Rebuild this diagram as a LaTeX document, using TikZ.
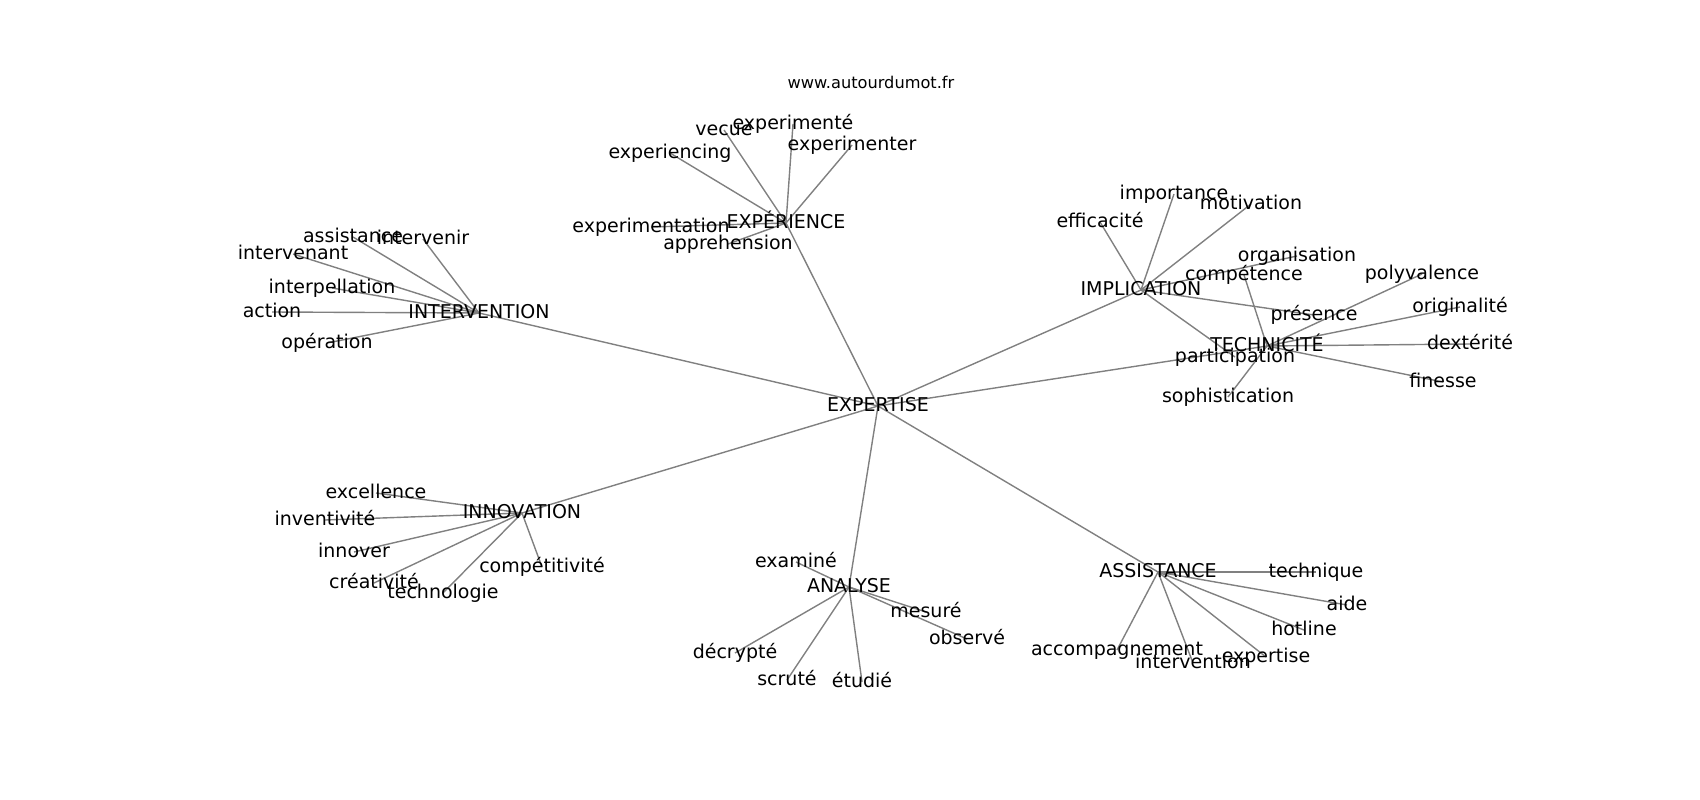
\documentclass[tikz,border=0pt]{standalone}
\usepackage{fontspec}
\setmainfont{DejaVu Sans}
\usetikzlibrary{backgrounds}

\begin{document}
\begin{tikzpicture}[x=1pt,y=-1pt,
  word/.style={inner sep=0pt,text height=1.12em,text depth=0pt,font=\fontsize{19}{19}\selectfont},
  link/.style={draw=gray,line width=1.4pt}]
\useasboundingbox (0,0) rectangle (1700,800);

\node (T)[word,font=\fontsize{16.2}{16.2}\selectfont] at (871,83) {www.autourdumot.fr};

\node (R0)[word] at (878,406) {EXPERTISE};

\node (H1)[word] at (786,223) {EXPÉRIENCE};
\node (W11)[word] at (724,130) {vecue};
\node (W12)[word] at (793,124) {experimenté};
\node (W13)[word] at (852,145) {experimenter};
\node (W14)[word] at (670,153) {experiencing};
\node (W15)[word] at (651,227) {experimentation};
\node (W16)[word] at (728,244) {apprehension};

\node (H2)[word] at (479,313) {INTERVENTION};
\node (W21)[word] at (353,237) {assistance};
\node (W22)[word] at (423,239) {intervenir};
\node (W23)[word] at (293,254) {intervenant};
\node (W24)[word] at (332,288) {interpellation};
\node (W25)[word] at (272,312) {action};
\node (W26)[word] at (327,343) {opération};

\node (H3)[word] at (1141,290) {IMPLICATION};
\node (W31)[word] at (1174,194) {importance};
\node (W32)[word] at (1251,204) {motivation};
\node (W33)[word] at (1100,222) {efficacité};
\node (W34)[word] at (1297,256) {organisation};
\node (W35)[word] at (1314,315) {présence};
\node (W36)[word] at (1235,357) {participation};

\node (H4)[word] at (1267,346) {TECHNICITÉ};
\node (W41)[word] at (1244,275) {compétence};
\node (W42)[word] at (1422,274) {polyvalence};
\node (W43)[word] at (1460,307) {originalité};
\node (W44)[word] at (1470,344) {dextérité};
\node (W45)[word] at (1443,382) {finesse};
\node (W46)[word] at (1228,397) {sophistication};

\node (H5)[word] at (522,513) {INNOVATION};
\node (W51)[word] at (376,493) {excellence};
\node (W52)[word] at (325,520) {inventivité};
\node (W53)[word] at (354,552) {innover};
\node (W54)[word] at (374,583) {créativité};
\node (W55)[word] at (443,593) {technologie};
\node (W56)[word] at (542,567) {compétitivité};

\node (H6)[word] at (849,587) {ANALYSE};
\node (W61)[word] at (796,562) {examiné};
\node (W62)[word] at (926,612) {mesuré};
\node (W63)[word] at (967,639) {observé};
\node (W64)[word] at (735,653) {décrypté};
\node (W65)[word] at (787,680) {scruté};
\node (W66)[word] at (862,682) {étudié};

\node (H7)[word] at (1158,572) {ASSISTANCE};
\node (W71)[word] at (1316,572) {technique};
\node (W72)[word] at (1347,605) {aide};
\node (W73)[word] at (1304,630) {hotline};
\node (W74)[word] at (1266,657) {expertise};
\node (W75)[word] at (1193,663) {intervention};
\node (W76)[word] at (1117,650) {accompagnement};

\begin{scope}[on background layer]
% centre
\draw[link] (R0.center) -- (H1.center);
\draw[link] (R0.center) -- (H2.center);
\draw[link] (R0.center) -- (H3.center);
\draw[link] (R0.center) -- (H4.center);
\draw[link] (R0.center) -- (H5.center);
\draw[link] (R0.center) -- (H6.center);
\draw[link] (R0.center) -- (H7.center);

\draw[link] (H1.center) -- (W11.center);
\draw[link] (H1.center) -- (W12.center);
\draw[link] (H1.center) -- (W13.center);
\draw[link] (H1.center) -- (W14.center);
\draw[link] (H1.center) -- (W15.center);
\draw[link] (H1.center) -- (W16.center);

\draw[link] (H2.center) -- (W21.center);
\draw[link] (H2.center) -- (W22.center);
\draw[link] (H2.center) -- (W23.center);
\draw[link] (H2.center) -- (W24.center);
\draw[link] (H2.center) -- (W25.center);
\draw[link] (H2.center) -- (W26.center);

\draw[link] (H3.center) -- (W31.center);
\draw[link] (H3.center) -- (W32.center);
\draw[link] (H3.center) -- (W33.center);
\draw[link] (H3.center) -- (W34.center);
\draw[link] (H3.center) -- (W35.center);
\draw[link] (H3.center) -- (W36.center);

\draw[link] (H4.center) -- (W41.center);
\draw[link] (H4.center) -- (W42.center);
\draw[link] (H4.center) -- (W43.center);
\draw[link] (H4.center) -- (W44.center);
\draw[link] (H4.center) -- (W45.center);
\draw[link] (H4.center) -- (W46.center);

\draw[link] (H5.center) -- (W51.center);
\draw[link] (H5.center) -- (W52.center);
\draw[link] (H5.center) -- (W53.center);
\draw[link] (H5.center) -- (W54.center);
\draw[link] (H5.center) -- (W55.center);
\draw[link] (H5.center) -- (W56.center);

\draw[link] (H6.center) -- (W61.center);
\draw[link] (H6.center) -- (W62.center);
\draw[link] (H6.center) -- (W63.center);
\draw[link] (H6.center) -- (W64.center);
\draw[link] (H6.center) -- (W65.center);
\draw[link] (H6.center) -- (W66.center);

\draw[link] (H7.center) -- (W71.center);
\draw[link] (H7.center) -- (W72.center);
\draw[link] (H7.center) -- (W73.center);
\draw[link] (H7.center) -- (W74.center);
\draw[link] (H7.center) -- (W75.center);
\draw[link] (H7.center) -- (W76.center);
\end{scope}
\end{tikzpicture}
\end{document}
